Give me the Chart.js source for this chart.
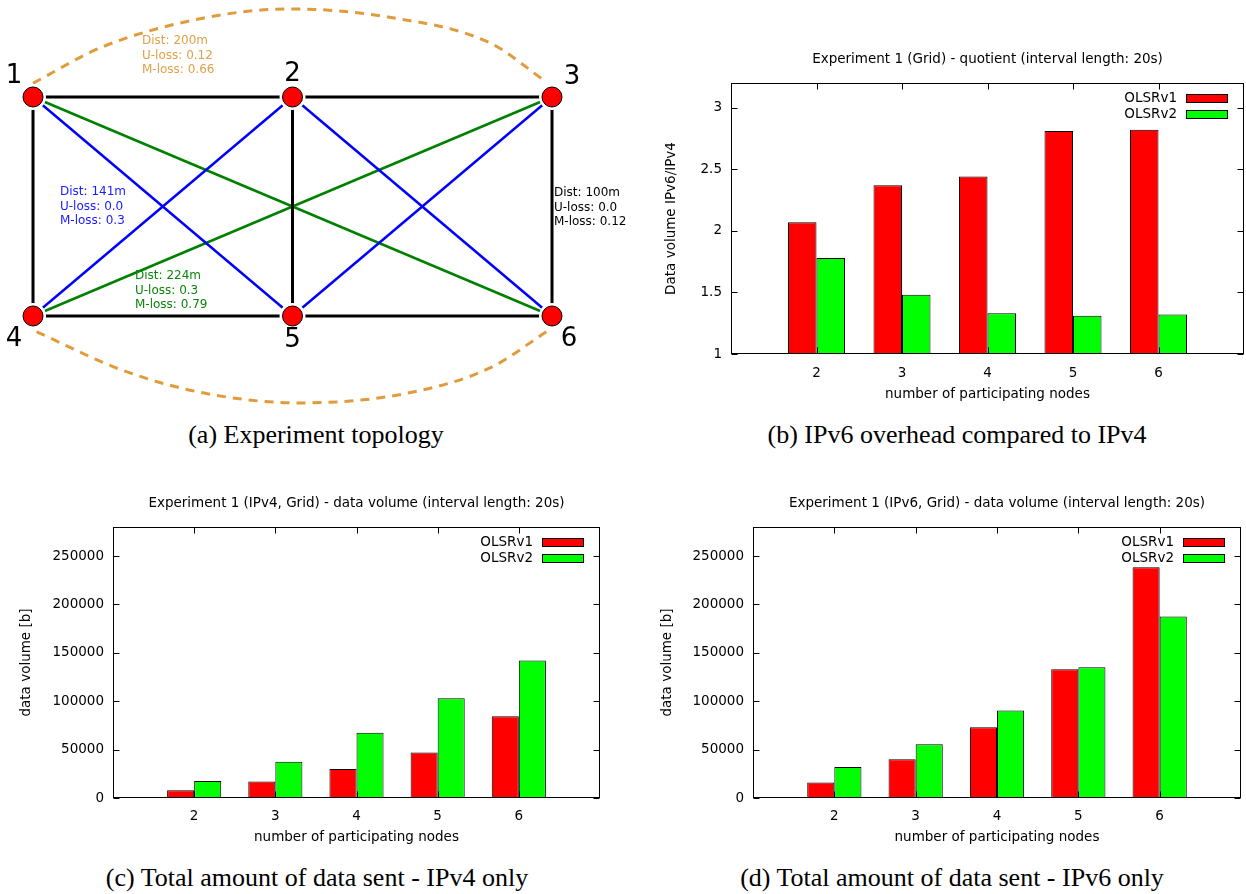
<!DOCTYPE html>
<html>
<head>
<meta charset="utf-8">
<title>Experiment 1 (Grid)</title>
<script src="https://cdn.jsdelivr.net/npm/chart.js@4.4.1/dist/chart.umd.min.js"></script>
<style>
  html, body { margin: 0; padding: 0; background: #fff; }
  body { width: 1246px; height: 894px; position: relative; overflow: hidden; }
  .box { position: absolute; }
  .caption {
    position: absolute; width: 600px; text-align: center; white-space: nowrap;
    font: 26px 'Liberation Serif', 'Times New Roman', serif; line-height: 30px; color: #000;
  }
</style>
</head>
<body>
<div class="box" style="left:0;top:0;width:640px;height:420px"><canvas id="topology"></canvas></div>
<div class="box" style="left:650px;top:40px;width:596px;height:370px"><canvas id="quotient"></canvas></div>
<div class="box" style="left:0;top:480px;width:620px;height:370px"><canvas id="ipv4"></canvas></div>
<div class="box" style="left:630px;top:480px;width:616px;height:370px"><canvas id="ipv6"></canvas></div>

<div class="caption" style="left:16px;top:420px">(a) Experiment topology</div>
<div class="caption" style="left:657px;top:420px">(b) IPv6 overhead compared to IPv4</div>
<div class="caption" style="left:17px;top:863px">(c) Total amount of data sent - IPv4 only</div>
<div class="caption" style="left:652px;top:863px">(d) Total amount of data sent - IPv6 only</div>

<script>
// ---- bar chart data ----
const nodeCounts = [2, 3, 4, 5, 6];
const quotientV1 = [2.07, 2.37, 2.44, 2.81, 2.82];
const quotientV2 = [1.78, 1.48, 1.33, 1.31, 1.32];
const ipv4V1 = [8000, 17000, 30000, 47000, 84500];
const ipv4V2 = [17500, 37500, 67500, 103000, 142000];
const ipv6V1 = [16000, 40000, 73000, 133000, 238500];
const ipv6V2 = [32000, 55500, 90500, 135000, 187500];
const quotientTicks = [1, 1.5, 2, 2.5, 3];
const volumeTicks = [0, 50000, 100000, 150000, 200000, 250000];
const seriesNames = ['OLSRv1', 'OLSRv2'];

// ---- topology data (metres) ----
const nodeNames = ['1', '2', '3', '4', '5', '6'];
const nodeX = [0, 100, 200, 0, 100, 200];
const nodeY = [0, 0, 0, 100, 100, 100];
const gridLinks = [[1, 2], [2, 3], [4, 5], [5, 6], [1, 4], [2, 5], [3, 6]];
const diagLinks = [[1, 5], [2, 4], [2, 6], [3, 5]];
const longDiagLinks = [[1, 6], [3, 4]];
const topArcX = [0, 26.6, 65.9, 99, 136.8, 176.1, 197.3];
const topArcY = [-6.3, -22.8, -36.1, -40.2, -36.5, -24.7, -7.3];
const bottomArcX = [1.4, 34.3, 65.9, 102.9, 144.5, 176.1, 198.8];
const bottomArcY = [107.2, 124.7, 135.2, 139.7, 135.2, 123.7, 106.4];
const statsLong = ['Dist: 200m', 'U-loss: 0.12', 'M-loss: 0.66'];
const statsDiag = ['Dist: 141m', 'U-loss: 0.0', 'M-loss: 0.3'];
const statsGrid = ['Dist: 100m', 'U-loss: 0.0', 'M-loss: 0.12'];
const statsLongDiag = ['Dist: 224m', 'U-loss: 0.3', 'M-loss: 0.79'];

const RED = '#ff0000';
const GREEN = '#00ff00';
const ORANGE = '#e09b3d';

Chart.defaults.font.family = "'DejaVu Sans', sans-serif";
Chart.defaults.font.size = 13.5;
Chart.defaults.color = '#000';
Chart.defaults.animation = false;

/**
 * gnuplot style frame: box, inward ticks, title and key inside the plot
 */
const gnuplotFrame = {
  id: 'gnuplotFrame',
  afterDatasetsDraw(chart, args, opts) {
    const {ctx, chartArea: a, scales: {x, y}} = chart;
    const L = Math.round(a.left) + 0.5, R = Math.round(a.right) - 0.5;
    const T = Math.round(a.top) + 0.5, B = Math.round(a.bottom) - 0.5;
    ctx.save();
    ctx.strokeStyle = '#000';
    ctx.lineWidth = 1;
    ctx.beginPath();
    x.ticks.forEach(t => {
      const px = Math.round(x.getPixelForValue(t.value)) + 0.5;
      ctx.moveTo(px, B); ctx.lineTo(px, B - 6);
      ctx.moveTo(px, T); ctx.lineTo(px, T + 6);
    });
    y.ticks.forEach(t => {
      const py = Math.round(y.getPixelForValue(t.value)) + 0.5;
      ctx.moveTo(L, py); ctx.lineTo(L + 6, py);
      ctx.moveTo(R, py); ctx.lineTo(R - 6, py);
    });
    ctx.stroke();
    ctx.strokeRect(L, T, R - L, B - T);

    ctx.font = "13.5px 'DejaVu Sans', sans-serif";
    ctx.fillStyle = '#000';
    ctx.textAlign = 'center';
    ctx.textBaseline = 'middle';
    ctx.fillText(opts.title, (a.left + a.right) / 2, opts.titleY);

    chart.data.datasets.forEach((ds, i) => {
      const cy = Math.round(a.top + 15 + i * 15.5);
      const kx = Math.round(a.right - 17 - 41);
      ctx.fillStyle = ds.backgroundColor;
      ctx.fillRect(kx, cy - 4, 41, 8);
      ctx.strokeRect(kx + 0.5, cy - 4 + 0.5, 41, 8);
      ctx.fillStyle = '#000';
      ctx.textAlign = 'right';
      ctx.fillText(ds.label, kx - 9, cy + 0.5);
    });
    ctx.restore();
  }
};

function barChart(id, v1, v2, o) {
  const toPoints = vals => nodeCounts.map((n, i) => ({x: n, y: vals[i]}));
  const common = {borderColor: '#000', borderWidth: 1, clip: 0, base: o.yMin};
  return new Chart(document.getElementById(id), {
    type: 'bar',
    data: {
      datasets: [
        Object.assign({label: seriesNames[0], data: toPoints(v1), backgroundColor: RED}, common),
        Object.assign({label: seriesNames[1], data: toPoints(v2), backgroundColor: GREEN}, common)
      ]
    },
    options: {
      responsive: true,
      maintainAspectRatio: false,
      categoryPercentage: 2 / 3,
      barPercentage: 1,
      layout: {autoPadding: false, padding: {top: o.padTop, right: o.padRight, left: 0, bottom: 0}},
      plugins: {
        legend: {display: false},
        tooltip: {enabled: false},
        gnuplotFrame: {title: o.title, titleY: o.titleY}
      },
      scales: {
        x: {
          type: 'linear',
          min: 1,
          max: 7,
          offset: false,
          grid: {display: false, drawTicks: false, offset: false},
          border: {display: false},
          afterBuildTicks: s => { s.ticks = nodeCounts.map(v => ({value: v})); },
          afterFit: s => { s.height = o.xHeight; },
          ticks: {padding: o.xTickPad, autoSkip: false, maxRotation: 0, callback: v => String(v)},
          title: {display: true, text: 'number of participating nodes', padding: {top: 0, bottom: o.xTitlePad}}
        },
        y: {
          min: o.yMin,
          max: o.yMax,
          beginAtZero: false,
          grid: {display: false, drawTicks: false},
          border: {display: false},
          afterBuildTicks: s => { s.ticks = o.yTicks.map(v => ({value: v})); },
          afterFit: s => { s.width = o.yWidth; },
          ticks: {padding: 9, callback: v => String(v)},
          title: {display: true, text: o.yTitle, padding: {top: o.yTitlePad, bottom: 0}}
        }
      }
    },
    plugins: [gnuplotFrame]
  });
}

barChart('quotient', quotientV1, quotientV2, {
  title: 'Experiment 1 (Grid) - quotient (interval length: 20s)', titleY: 19,
  yTitle: 'Data volume IPv6/IPv4', yMin: 1, yMax: 3.2, yTicks: quotientTicks,
  padTop: 43, padRight: 2, yWidth: 81, xHeight: 56, xTickPad: 11, xTitlePad: 7, yTitlePad: 13
});
barChart('ipv4', ipv4V1, ipv4V2, {
  title: 'Experiment 1 (IPv4, Grid) - data volume (interval length: 20s)', titleY: 23,
  yTitle: 'data volume [b]', yMin: 0, yMax: 280000, yTicks: volumeTicks,
  padTop: 47, padRight: 20, yWidth: 113, xHeight: 52, xTickPad: 10, xTitlePad: 4, yTitlePad: 18
});
barChart('ipv6', ipv6V1, ipv6V2, {
  title: 'Experiment 1 (IPv6, Grid) - data volume (interval length: 20s)', titleY: 23,
  yTitle: 'data volume [b]', yMin: 0, yMax: 280000, yTicks: volumeTicks,
  padTop: 47, padRight: 5, yWidth: 123, xHeight: 52, xTickPad: 10, xTitlePad: 4, yTitlePad: 29
});

// ---- topology ----
const nodePoint = i => ({x: nodeX[i - 1], y: nodeY[i - 1]});
const linkSets = (links, color, width) => links.map(([a, b]) => ({
  data: [nodePoint(a), nodePoint(b)],
  showLine: true, borderColor: color, borderWidth: width, pointRadius: 0, order: 2
}));
const arcSet = (xs, ys) => ({
  data: xs.map((x, i) => ({x: x, y: ys[i]})),
  showLine: true, borderColor: ORANGE, borderWidth: 3, borderDash: [9, 7],
  cubicInterpolationMode: 'monotone', pointRadius: 0, order: 3
});
const nodePoints = nodeNames.map((n, i) => ({x: nodeX[i], y: nodeY[i]}));

// label layout, pixels
const nodeLabelOffsets = [[-19, -21], [0, -23], [20, -20], [-19, 23], [0, 24], [17, 23]];
const statLabels = [
  {lines: statsLong, color: '#e3a049', x: 142, y: 41},
  {lines: statsDiag, color: '#1a1aff', x: 60, y: 192},
  {lines: statsGrid, color: '#000', x: 554, y: 193},
  {lines: statsLongDiag, color: '#0a870a', x: 135, y: 276}
];

const topologyLabels = {
  id: 'topologyLabels',
  afterDraw(chart) {
    const {ctx, scales: {x, y}} = chart;
    ctx.save();
    ctx.textBaseline = 'middle';
    ctx.fillStyle = '#000';
    ctx.textAlign = 'center';
    ctx.font = "26px 'DejaVu Sans', sans-serif";
    nodeNames.forEach((name, i) => {
      const [dx, dy] = nodeLabelOffsets[i];
      ctx.fillText(name, x.getPixelForValue(nodeX[i]) + dx, y.getPixelForValue(nodeY[i]) + dy);
    });
    ctx.textAlign = 'left';
    ctx.font = "12px 'DejaVu Sans', sans-serif";
    statLabels.forEach(l => {
      ctx.fillStyle = l.color;
      l.lines.forEach((t, k) => ctx.fillText(t, l.x, l.y + k * 14.5));
    });
    ctx.restore();
  }
};

new Chart(document.getElementById('topology'), {
  type: 'scatter',
  data: {
    datasets: [
      {data: nodePoints, pointRadius: 10, pointBackgroundColor: RED, pointBorderColor: '#000',
       pointBorderWidth: 1, order: 0},
      {data: nodePoints, pointRadius: 13, pointBackgroundColor: '#fff', pointBorderWidth: 0, order: 1},
      ...linkSets(gridLinks, '#000', 3),
      ...linkSets(diagLinks, '#0000ff', 2.5),
      ...linkSets(longDiagLinks, '#008000', 2.5),
      arcSet(topArcX, topArcY),
      arcSet(bottomArcX, bottomArcY)
    ]
  },
  options: {
    responsive: true,
    maintainAspectRatio: false,
    layout: {autoPadding: false, padding: 0},
    plugins: {legend: {display: false}, tooltip: {enabled: false}},
    scales: {
      x: {type: 'linear', display: false, min: -12.72, max: 233.91},
      y: {type: 'linear', display: false, min: -44.29, max: 147.49, reverse: true}
    }
  },
  plugins: [topologyLabels]
});
</script>
</body>
</html>
